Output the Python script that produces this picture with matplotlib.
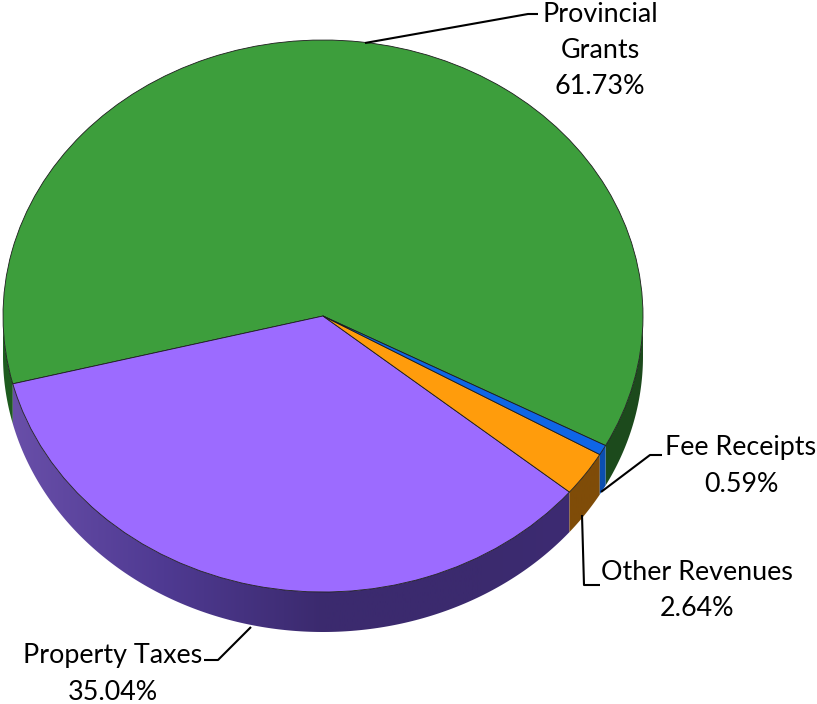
import numpy as np
import matplotlib
matplotlib.use('Agg')
import matplotlib.pyplot as plt
from matplotlib.colors import LinearSegmentedColormap
from matplotlib.patches import Polygon

# data
labels = ['Provincial\nGrants', 'Property Taxes', 'Other Revenues', 'Fee Receipts']
shares = [61.73, 35.04, 2.64, 0.59]
face_colors = ['#3d9e3c', '#9c6bff', '#ff9c0c', '#0f66e6']
# wall shading, left side of the pie to the right side
wall_colors = [['#1f5c20', '#1c4a1c'],
               ['#6a50aa', '#4f3a92', '#3b2a6e', '#3b2a6e', '#3e2b76'],
               ['#7f4c08', '#7f4c08'],
               ['#0b4fb0', '#0b4fb0']]

W, H = 817, 704
CX, CY, RX, RY = 323, 316, 320, 276
DEPTH = 40 / RY
START = -28

plt.rcParams['font.family'] = ['Lato', 'DejaVu Sans']

fig = plt.figure(figsize=(W / 100, H / 100), dpi=100)
ax = fig.add_axes([0, 0, 1, 1])
wedges, _ = ax.pie(shares, colors=face_colors, startangle=START, counterclock=True,
                   wedgeprops={'edgecolor': '#1c1c1c', 'linewidth': 0.6, 'zorder': 3})


def draw_wall(t0, t1, colors):
    # outer wall of a slice, only the part on the near side of the pie
    for shift in (0, 360):
        a = max(t0 + shift, 180)
        b = min(t1 + shift, 360)
        if a >= b:
            continue
        t = np.radians(np.linspace(a, b, 200))
        x, y = np.cos(t), np.sin(t)
        pts = np.r_[np.c_[x, y], np.c_[x[::-1], y[::-1] - DEPTH]]
        poly = Polygon(pts, closed=True, facecolor='none', edgecolor='none')
        ax.add_patch(poly)
        cmap = LinearSegmentedColormap.from_list('wall', colors)
        img = ax.imshow(np.linspace(0, 1, 256)[None, :], cmap=cmap, aspect='auto',
                        extent=(-1, 1, -1 - DEPTH, 1), zorder=1)
        img.set_clip_path(poly)


angle = START
for share, colors in zip(shares, wall_colors):
    span = share * 3.6
    draw_wall(angle, angle + span, colors)
    angle += span

# map the unit pie onto the squashed ellipse in pixels
ax.set_aspect('auto')
ax.set_xlim(-CX / RX, (W - CX) / RX)
ax.set_ylim((CY - H) / RY, CY / RY)
ax.axis('off')

# leader lines and labels, in pixel coordinates
over = fig.add_axes([0, 0, 1, 1], facecolor='none')
over.set_xlim(0, W)
over.set_ylim(H, 0)
over.axis('off')

leaders = [([365, 528, 538], [43, 14, 14]),
           ([251, 218, 204], [627, 660, 660]),
           ([582, 584, 600], [515, 585, 585]),
           ([601, 650, 662], [492, 455, 455])]
for xs, ys in leaders:
    over.plot(xs, ys, color='black', lw=1.5, solid_capstyle='butt')

label_pos = [(600, 15), (113, 656), (697, 573), (741, 448)]
for label, share, (x, y) in zip(labels, shares, label_pos):
    for i, line in enumerate(label.split('\n') + [f'{share:.2f}%']):
        over.text(x, y + i * 36, line, ha='center', va='center', fontsize=19.4, color='black')

fig.savefig('out.png', dpi=100)
